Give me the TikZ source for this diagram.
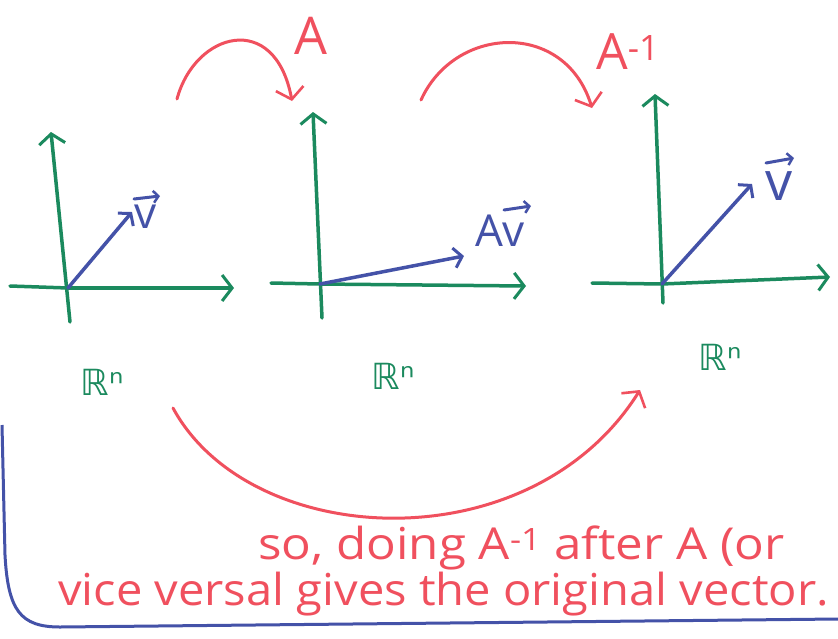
\documentclass[tikz,border=0pt]{standalone}
\usepackage{fontspec}
\newfontfamily\hand{Open Sans}
\newfontfamily\sym{DejaVu Sans}
\usetikzlibrary{arrows.meta}
\definecolor{pgreen}{HTML}{1B8A5E}
\definecolor{pblue}{HTML}{4452A8}
\definecolor{pred}{HTML}{F0505E}
\tikzset{
  axis/.style={draw=pgreen,line width=3.5pt,line cap=round,-{Straight Barb[length=10pt,width=26pt,line width=3pt]}},
  vec/.style={draw=pblue,line width=3.5pt,line cap=round,-{Straight Barb[length=8pt,width=20pt,line width=3pt]}},
  vecbar/.style={draw=pblue,line width=3pt,line cap=round,-{Straight Barb[length=5pt,width=12pt,line width=2.5pt]}},
  redarrow/.style={draw=pred,line width=3pt,line cap=round,-{Straight Barb[length=11pt,width=28pt,line width=2.6pt]}},
  vlabel/.style={text=pblue,font=\hand\fontsize{44}{46}\selectfont,inner sep=0pt},
  rlabel/.style={text=pgreen,font=\sym\fontsize{36}{38}\selectfont,inner sep=0pt},
  redlabel/.style={text=pred,font=\hand\fontsize{44}{46}\selectfont,inner sep=0pt},
}
\begin{document}
\begin{tikzpicture}[x=1pt,y=-1pt]
\useasboundingbox[fill=white] (0,0) rectangle (838,638);
% panel 1
\coordinate (O1) at (68,288);
\coordinate (x1l) at (10,286); \coordinate (x1r) at (234,288);
\coordinate (y1b) at (70,322); \coordinate (y1t) at (51,132);
\coordinate (v1) at (132,212);
\draw[axis,-] (x1l) -- (O1);
\draw[axis] (O1) -- (x1r);
\draw[axis] (y1b) -- (y1t);
\draw[vec] (O1) -- (v1);
\node[vlabel,anchor=base] (lv1) at (146,228) {v};
\coordinate (lv1a) at (134,199); \coordinate (lv1b) at (160,196);
\draw[vecbar] (lv1a) -- (lv1b);
\node[rlabel] (r1) at (102,382) {ℝⁿ};
% panel 2
\coordinate (O2) at (320,284);
\coordinate (x2l) at (271,283); \coordinate (x2r) at (526,286);
\coordinate (y2b) at (322,318); \coordinate (y2t) at (313,112);
\coordinate (v2) at (464,256);
\draw[axis,-] (x2l) -- (O2);
\draw[axis] (O2) -- (x2r);
\draw[axis] (y2b) -- (y2t);
\draw[vec] (O2) -- (v2);
\node[vlabel,anchor=base] (lv2) at (500,246) {Av};
\coordinate (lv2a) at (504,210); \coordinate (lv2b) at (531,206);
\draw[vecbar] (lv2a) -- (lv2b);
\node[rlabel] (r2) at (393,376) {ℝⁿ};
% panel 3
\coordinate (O3) at (662,284);
\coordinate (x3l) at (592,283); \coordinate (x3r) at (830,277);
\coordinate (y3b) at (663,303); \coordinate (y3t) at (655,94);
\coordinate (v3) at (752,184);
\draw[axis,-] (x3l) -- (O3);
\draw[axis] (O3) -- (x3r);
\draw[axis] (y3b) -- (y3t);
\draw[vec] (O3) -- (v3);
\node[vlabel,font=\hand\fontsize{54}{56}\selectfont,anchor=base] (lv3) at (779,200) {v};
\coordinate (lv3a) at (766,163); \coordinate (lv3b) at (794,158);
\draw[vecbar] (lv3a) -- (lv3b);
\node[rlabel] (r3) at (720,357) {ℝⁿ};
% red arcs
\coordinate (a1s) at (177,99); \coordinate (a1e) at (292,101);
\draw[redarrow] (a1s) .. controls (195,32) and (275,10) .. (a1e);
\node[redlabel,font=\hand\fontsize{52}{54}\selectfont] (la) at (311,36) {A};
\coordinate (a2s) at (421,100); \coordinate (a2e) at (592,108);
\draw[redarrow] (a2s) .. controls (455,25) and (565,20) .. (a2e);
\node[redlabel,font=\hand\fontsize{50}{52}\selectfont] (lainv) at (628,52) {A\textsuperscript{-1}};
\coordinate (a3s) at (173,408); \coordinate (a3e) at (640,390);
\draw[redarrow] (a3s) .. controls (250,550) and (530,565) .. (a3e);
% text
\node[redlabel,anchor=west] (t1) at (258,548) {\scalebox{1.12}[1]{so, doing A\textsuperscript{-1} after A (or}};
\node[redlabel,anchor=west] (t2) at (58,594) {\scalebox{1.07}[1]{vice versal gives the original vector.}};
% blue border
\coordinate (b1) at (2,425); \coordinate (b2) at (5,555);
\coordinate (b3) at (60,627); \coordinate (b4) at (838,619);
\draw[pblue,line width=3pt] (b1) -- (b2) .. controls (8,610) and (20,627) .. (b3) -- (b4);
\end{tikzpicture}
\end{document}
